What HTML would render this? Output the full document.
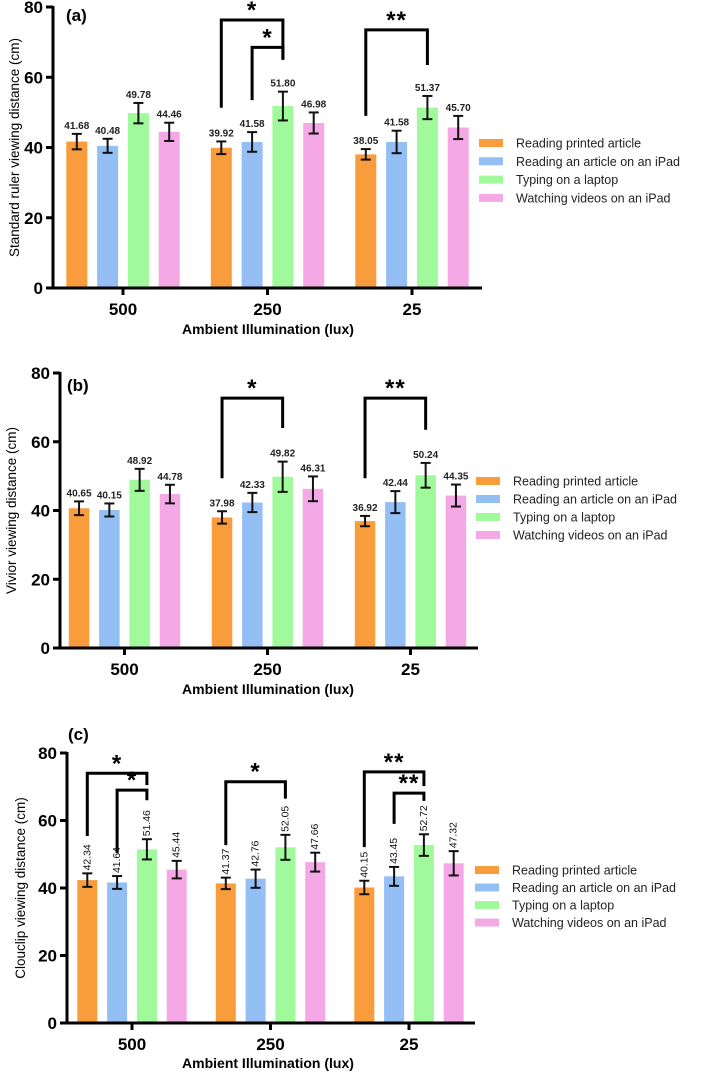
<!DOCTYPE html>
<html><head><meta charset="utf-8">
<style>
html,body{margin:0;padding:0;background:#fff;}
svg{display:block;font-family:"Liberation Sans",Arial,sans-serif;}
</style></head>
<body>
<svg id="chart" width="709" height="1074" viewBox="0 0 709 1074" xmlns="http://www.w3.org/2000/svg"></svg>
<script>
// ---- shared data ----
const categories = ["500", "250", "25"];
const seriesNames = ["Reading printed article", "Reading an article on an iPad", "Typing on a laptop", "Watching videos on an iPad"];
const seriesColors = ["#f99c3c", "#94bff5", "#a0f99a", "#f4a9e6"];
const yTicks = [0, 20, 40, 60, 80];

// ---- panel (a) ----
const valuesA = [[41.68, 40.48, 49.78, 44.46], [39.92, 41.58, 51.80, 46.98], [38.05, 41.58, 51.37, 45.70]];
const errorsA = [[2.2, 2.0, 2.9, 2.6], [1.8, 2.8, 4.1, 3.0], [1.5, 3.2, 3.3, 3.3]];
const bracketsA = [[1, 0, 2, 51.3, 76.3, 65, "*"], [1, 1, 2, 53.5, 68.5, 65, "*"], [2, 0, 2, 49, 73.5, 63.5, "**"]];

// ---- panel (b) ----
const valuesB = [[40.65, 40.15, 48.92, 44.78], [37.98, 42.33, 49.82, 46.31], [36.92, 42.44, 50.24, 44.35]];
const errorsB = [[2.0, 1.9, 3.2, 2.7], [1.8, 2.8, 4.4, 3.6], [1.5, 3.2, 3.6, 3.2]];
const bracketsB = [[1, 0, 2, 49.4, 72.7, 64, "*"], [2, 0, 2, 49.4, 72.7, 63.5, "**"]];

// ---- panel (c) ----
const valuesC = [[42.34, 41.64, 51.46, 45.44], [41.37, 42.76, 52.05, 47.66], [40.15, 43.45, 52.72, 47.32]];
const errorsC = [[2.0, 1.9, 3.0, 2.6], [1.7, 2.7, 3.7, 2.8], [2.0, 2.8, 3.2, 3.6]];
const bracketsC = [[0, 0, 2, 55.4, 74, 70.5, "*"], [0, 1, 2, 50.4, 69, 66, "*"], [1, 0, 2, 52.7, 71.5, 66.5, "*"], [2, 0, 2, 52.1, 74.4, 70.2, "**"], [2, 1, 2, 59, 68.1, 65.8, "**"]];

const NS = "http://www.w3.org/2000/svg";
const svg = document.getElementById("chart");
function mk(tag, attrs, parent, text) {
  const e = document.createElementNS(NS, tag);
  for (const k in attrs) e.setAttribute(k, attrs[k]);
  if (text !== undefined) e.textContent = text;
  (parent || svg).appendChild(e);
  return e;
}

function drawPanel(p) {
  const g = mk("g", {});
  
  
  const yScale = v => p.y0 - (v / 80) * (p.y0 - p.y80);
  const groupCenter = i => p.tick0 + i * p.pitch;
  const barCenter = (i, s) => groupCenter(i) + (s - 1.5) * p.barPitch;

  // bars
  p.values.forEach((row, i) => {
    row.forEach((v, s) => {
      const cx = barCenter(i, s);
      const r = mk("rect", {x: cx - p.barW / 2, y: yScale(v), width: p.barW, height: p.y0 - yScale(v), fill: seriesColors[s]}, g);
      
      
      const e = p.errors[i][s];
      const eg = mk("g", {stroke: "#111", "stroke-width": 2, fill: "none"}, g);
      
      
      mk("line", {x1: cx, x2: cx, y1: yScale(v + e), y2: yScale(v - e)}, eg);
      mk("line", {x1: cx - 5, x2: cx + 5, y1: yScale(v + e), y2: yScale(v + e)}, eg);
      mk("line", {x1: cx - 5, x2: cx + 5, y1: yScale(v - e), y2: yScale(v - e)}, eg);
      let t;
      if (p.rotated) {
        const ty = yScale(v + e) - 3;
        t = mk("text", {x: cx + 3, y: ty, transform: "rotate(-90 " + (cx + 3) + " " + ty + ")", "font-size": 10, "text-anchor": "start", fill: "#111", "textLength": 26, "lengthAdjust": "spacingAndGlyphs"}, g, v.toFixed(2));
      } else {
        t = mk("text", {x: cx, y: yScale(v + e) - 5, "font-size": 10, "font-weight": "bold", "text-anchor": "middle", fill: "#222"}, g, v.toFixed(2));
      }
      
      
    });
  });

  // axes
  const ax = mk("g", {stroke: "#000", "stroke-width": 3, fill: "none"}, g);
  
  
  mk("line", {x1: p.axisX, x2: p.axisX, y1: p.y80 - 1, y2: p.y0 + 1.5}, ax);
  mk("line", {x1: p.axisX - 1.5, x2: p.xEnd, y1: p.y0, y2: p.y0}, ax);
  yTicks.forEach(v => {
    mk("line", {x1: p.axisX - 7, x2: p.axisX, y1: yScale(v), y2: yScale(v)}, ax);
    const t = mk("text", {x: p.axisX - 10, y: yScale(v) + 6, "font-size": 17, "font-weight": "bold", "text-anchor": "end", fill: "#000", stroke: "none"}, g, String(v));
    
    
  });
  categories.forEach((c, i) => {
    mk("line", {x1: groupCenter(i), x2: groupCenter(i), y1: p.y0, y2: p.y0 + 7}, ax);
    const t = mk("text", {x: groupCenter(i), y: p.y0 + 27, "font-size": 17, "font-weight": "bold", "text-anchor": "middle", fill: "#000"}, g, c);
    
    
  });

  // titles
  const xt = mk("text", {x: p.xTitleX, y: p.xTitleY, "font-size": 14, "font-weight": "bold", "text-anchor": "middle", fill: "#000"}, g, "Ambient Illumination (lux)");
  
  
  const cy = (p.y0 + p.y80) / 2;
  const yt = mk("text", {x: p.yTitleX, y: cy, transform: "rotate(-90 " + p.yTitleX + " " + cy + ")", "font-size": 13.5, "text-anchor": "middle", fill: "#000"}, g, p.yTitle);
  
  
  const pl = mk("text", {x: p.labelX, y: p.labelY, "font-size": 17, "font-weight": "bold", fill: "#000"}, g, p.label);
  
  

  // brackets
  p.brackets.forEach(b => {
    const [gi, s1, s2, yl, yt2, yr, star] = b;
    const x1 = barCenter(gi, s1), x2 = barCenter(gi, s2);
    const pth = mk("path", {d: "M" + x1 + " " + yScale(yl) + " V" + yScale(yt2) + " H" + x2 + " V" + yScale(yr), stroke: "#000", "stroke-width": 3, fill: "none"}, g);
    
    
    const st = mk("text", {x: (x1 + x2) / 2, y: yScale(yt2) - 2, "font-size": 24, "font-weight": "bold", "text-anchor": "middle", fill: "#000", "letter-spacing": "1"}, g, star);
    
    
  });

  // legend
  const lg = mk("g", {}, g);
  
  
  seriesNames.forEach((n, s) => {
    const y = p.legendY + s * p.legendStep;
    const sw = mk("rect", {x: p.legendX, y: y - 4, width: 24, height: 8, fill: seriesColors[s]}, lg);
    
    
    const t = mk("text", {x: p.legendX + 37, y: y + 4.5, "font-size": 12.5, fill: "#222"}, lg, n);
    
    
  });
}

drawPanel({id: "a", label: "(a)", values: valuesA, errors: errorsA, brackets: bracketsA, rotated: false,
  axisX: 53, y0: 288, y80: 7, tick0: 123, pitch: 144.5, barPitch: 30.8, barW: 21, xEnd: 482,
  xTitleX: 268, xTitleY: 334, yTitleX: 19, yTitle: "Standard ruler viewing distance (cm)",
  labelX: 66, labelY: 21, legendX: 479, legendY: 143, legendStep: 18.3});
drawPanel({id: "b", label: "(b)", values: valuesB, errors: errorsB, brackets: bracketsB, rotated: false,
  axisX: 60, y0: 648, y80: 373, tick0: 124.5, pitch: 143, barPitch: 30.3, barW: 20.5, xEnd: 478,
  xTitleX: 268, xTitleY: 694, yTitleX: 16, yTitle: "Vivior viewing distance (cm)",
  labelX: 67, labelY: 391, legendX: 476, legendY: 481, legendStep: 18});
drawPanel({id: "c", label: "(c)", values: valuesC, errors: errorsC, brackets: bracketsC, rotated: true,
  axisX: 67, y0: 1023, y80: 753, tick0: 132, pitch: 138.5, barPitch: 29.8, barW: 20, xEnd: 475,
  xTitleX: 268, xTitleY: 1068, yTitleX: 25, yTitle: "Clouclip viewing distance (cm)",
  labelX: 68, labelY: 740, legendX: 475, legendY: 870, legendStep: 17.5});
</script>
</body></html>
